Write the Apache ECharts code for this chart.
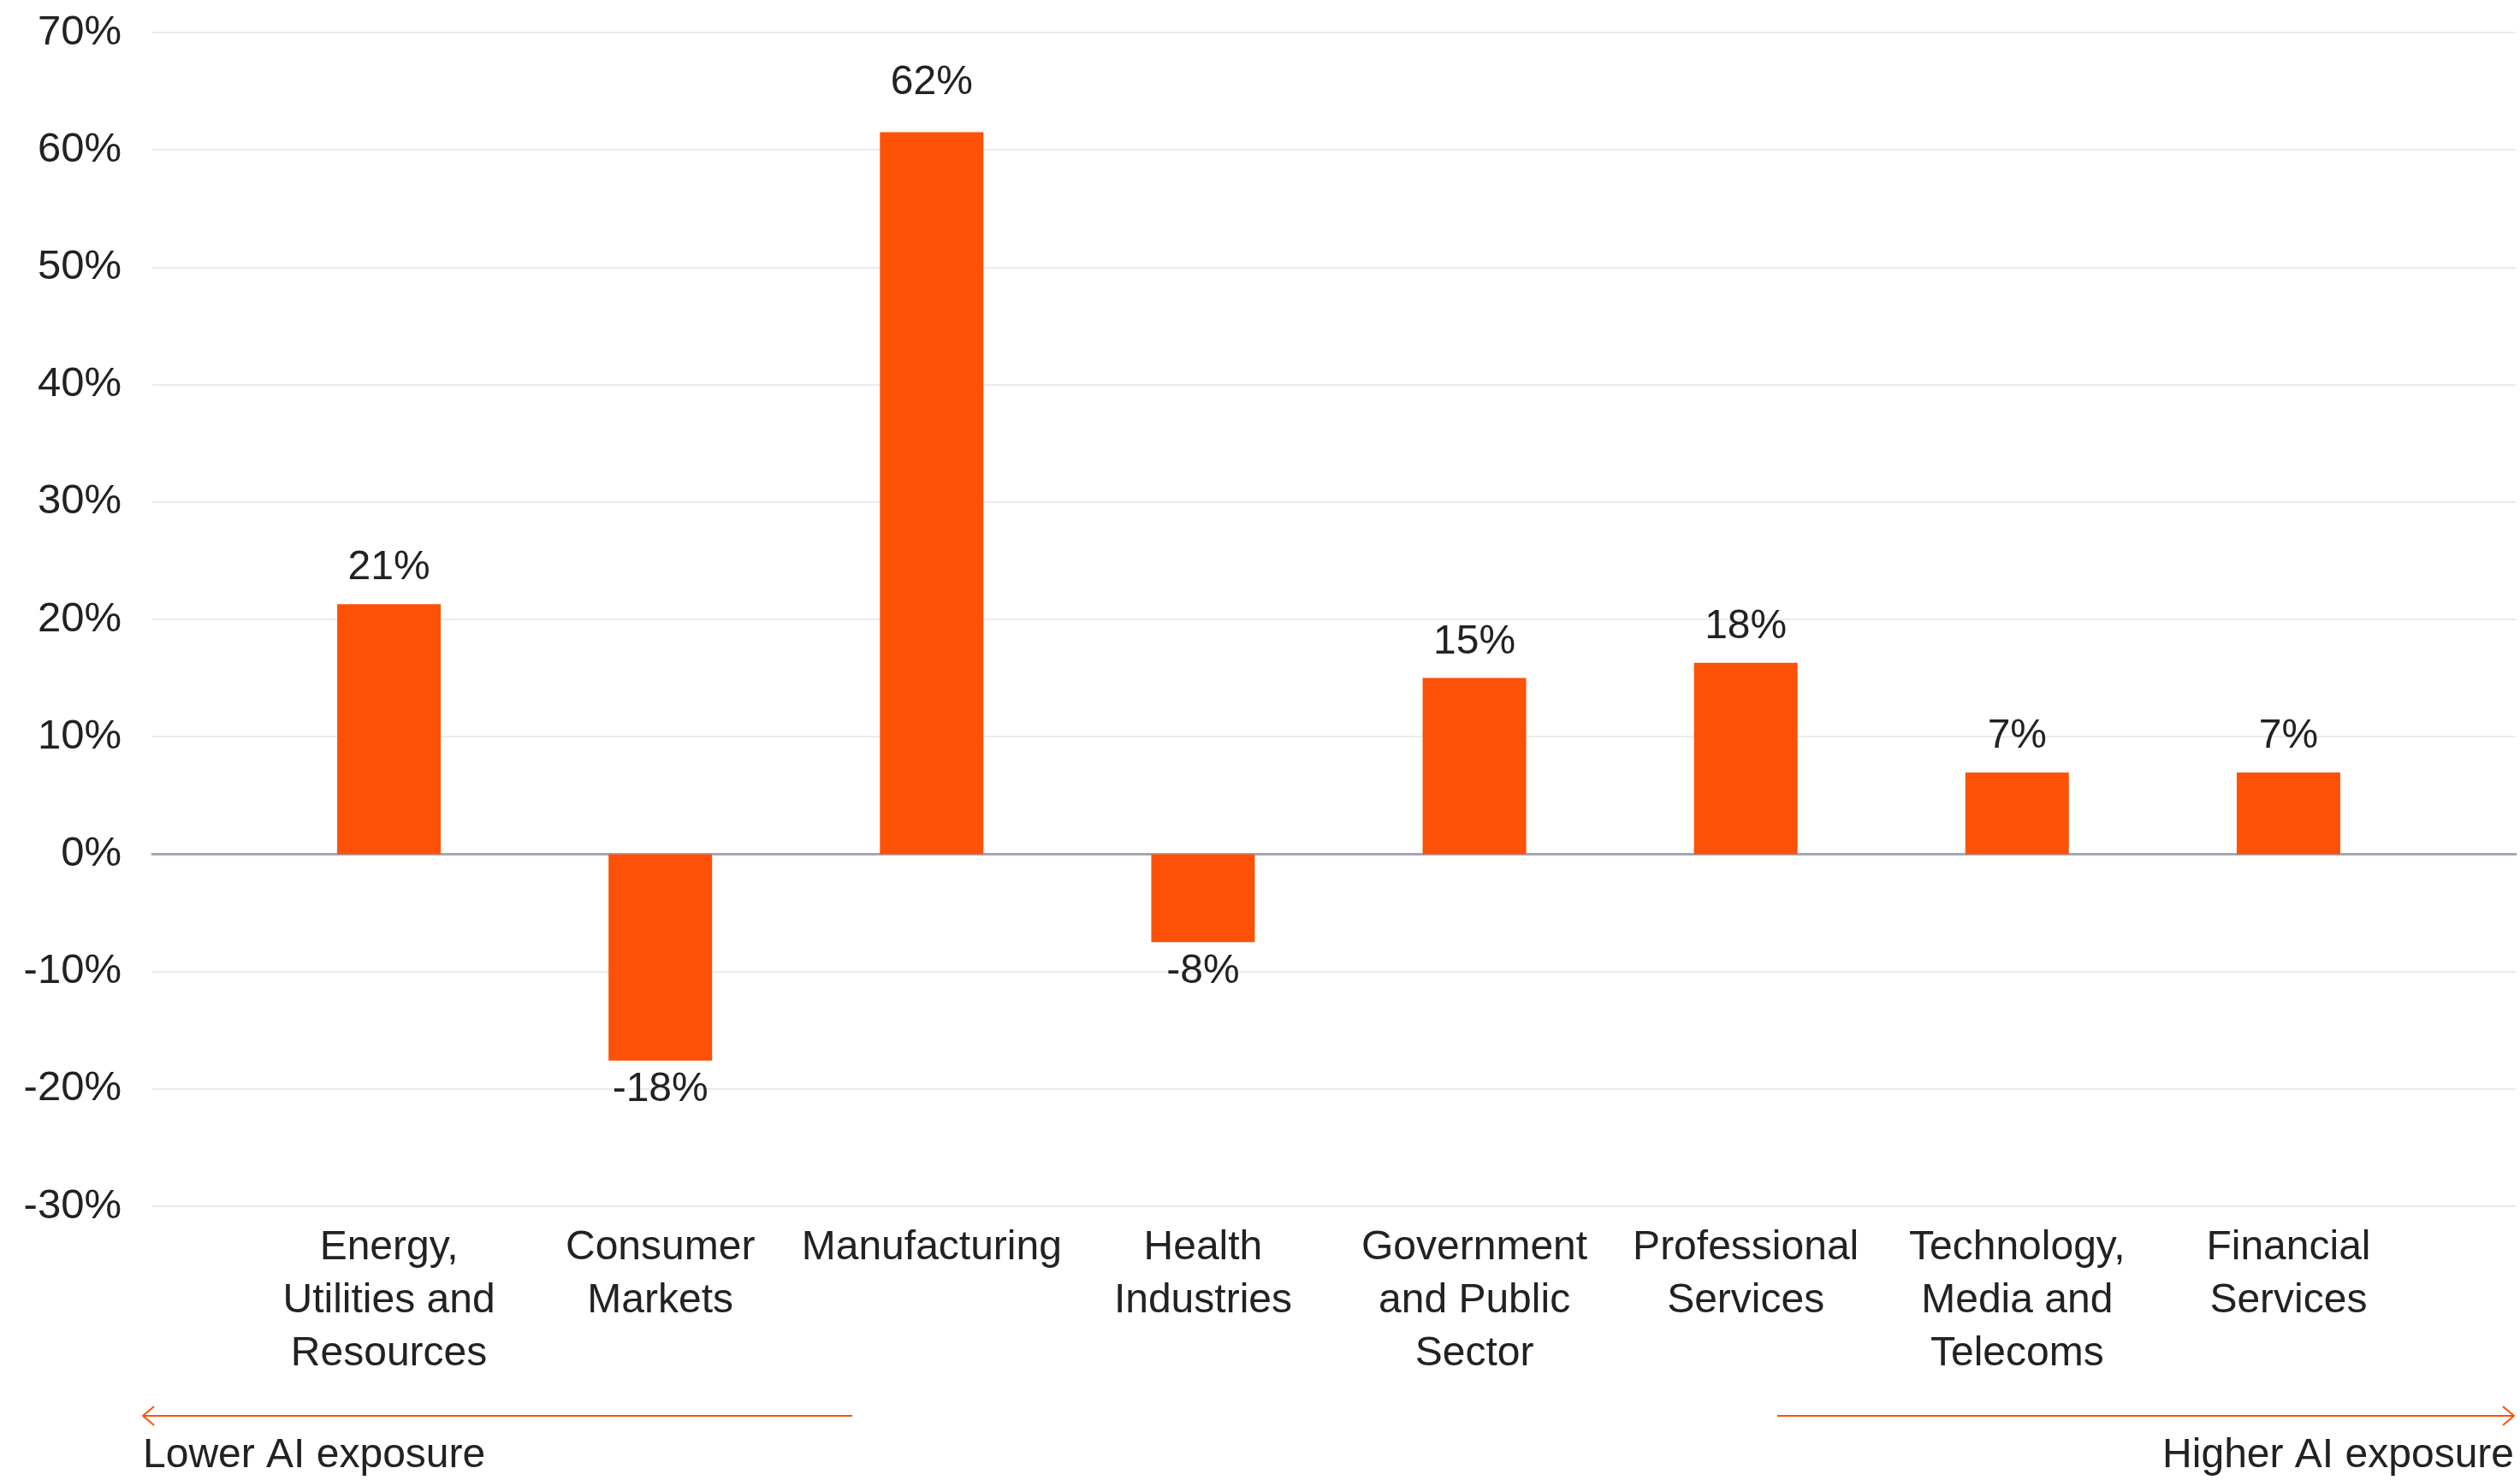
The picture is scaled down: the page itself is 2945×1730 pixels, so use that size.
<!DOCTYPE html>
<html>
<head>
<meta charset="utf-8">
<script src="https://cdn.jsdelivr.net/npm/echarts@6/dist/echarts.min.js"></script>
<style>
html,body{margin:0;padding:0;background:#fff;}
#chart{width:2945px;height:1730px;}
</style>
</head>
<body>
<div id="chart"></div>
<script>
const categories = [
  "Energy,\nUtilities and\nResources",
  "Consumer\nMarkets",
  "Manufacturing",
  "Health\nIndustries",
  "Government\nand Public\nSector",
  "Professional\nServices",
  "Technology,\nMedia and\nTelecoms",
  "Financial\nServices"
];
const values = [21.3, -17.6, 61.5, -7.5, 15.0, 16.3, 6.95, 6.95];
const valueLabels = ["21%", "-18%", "62%", "-8%", "15%", "18%", "7%", "7%"];
const yMin = -30, yMax = 70, yStep = 10;
const lowerText = "Lower AI exposure";
const higherText = "Higher AI exposure";

const FONT = "Liberation Sans";
const TEXT = "#222222";
const ORANGE = "#FD5108";

const chart = echarts.init(document.getElementById('chart'));

const barData = values.map((v, i) => ({
  value: v,
  label: {
    position: v < 0 ? 'bottom' : 'top',
    distance: v < 0 ? 10 : (i === 2 ? 34 : 18),
    formatter: valueLabels[i]
  }
}));

const option = {
  backgroundColor: '#ffffff',
  animation: false,
  grid: [
    { left: 296, right: 112, top: 38, bottom: 320, containLabel: false },
    { left: 178, right: 5, top: 38, bottom: 320, containLabel: false }
  ],
  xAxis: [
    {
      gridIndex: 0, type: 'category', data: categories, position: 'bottom',
      axisLine: { show: false, onZero: false }, axisTick: { show: false },
      axisLabel: {
        interval: 0, margin: 18, fontFamily: FONT, fontSize: 48,
        lineHeight: 62, color: TEXT, align: 'center'
      }
    },
    {
      gridIndex: 1, type: 'value', min: 0, max: 1,
      axisLine: { show: true, onZero: true, lineStyle: { color: '#a2a8b3', width: 3 } },
      axisTick: { show: false }, axisLabel: { show: false }, splitLine: { show: false }
    }
  ],
  yAxis: [
    {
      gridIndex: 0, type: 'value', min: yMin, max: yMax, interval: yStep, show: false,
      splitLine: { show: false }
    },
    {
      gridIndex: 1, type: 'value', min: yMin, max: yMax, interval: yStep,
      axisLine: { show: false }, axisTick: { show: false },
      axisLabel: {
        formatter: '{value}%', fontFamily: FONT, fontSize: 49, color: TEXT, margin: 36
      },
      splitLine: { show: true, lineStyle: { color: '#ebebeb', width: 2 } }
    }
  ],
  series: [
    {
      type: 'bar', xAxisIndex: 0, yAxisIndex: 0, data: barData,
      barWidth: 121,
      itemStyle: { color: ORANGE },
      label: { show: true, fontFamily: FONT, fontSize: 48, color: TEXT }
    }
  ],
  graphic: [
    { type: 'line', shape: { x1: 996, y1: 1655, x2: 168, y2: 1655 }, style: { stroke: ORANGE, lineWidth: 2 } },
    { type: 'polyline', shape: { points: [[180, 1644], [167, 1655], [180, 1666]] }, style: { stroke: ORANGE, lineWidth: 2, fill: null } },
    { type: 'line', shape: { x1: 2077, y1: 1655, x2: 2937, y2: 1655 }, style: { stroke: ORANGE, lineWidth: 2 } },
    { type: 'polyline', shape: { points: [[2925, 1644], [2938, 1655], [2925, 1666]] }, style: { stroke: ORANGE, lineWidth: 2, fill: null } },
    { type: 'text', left: 167, top: 1678, style: { text: lowerText, font: '48px "Liberation Sans"', fill: TEXT } },
    { type: 'text', right: 7, top: 1678, style: { text: higherText, font: '48px "Liberation Sans"', fill: TEXT } }
  ]
};
chart.setOption(option);
</script>
</body>
</html>
